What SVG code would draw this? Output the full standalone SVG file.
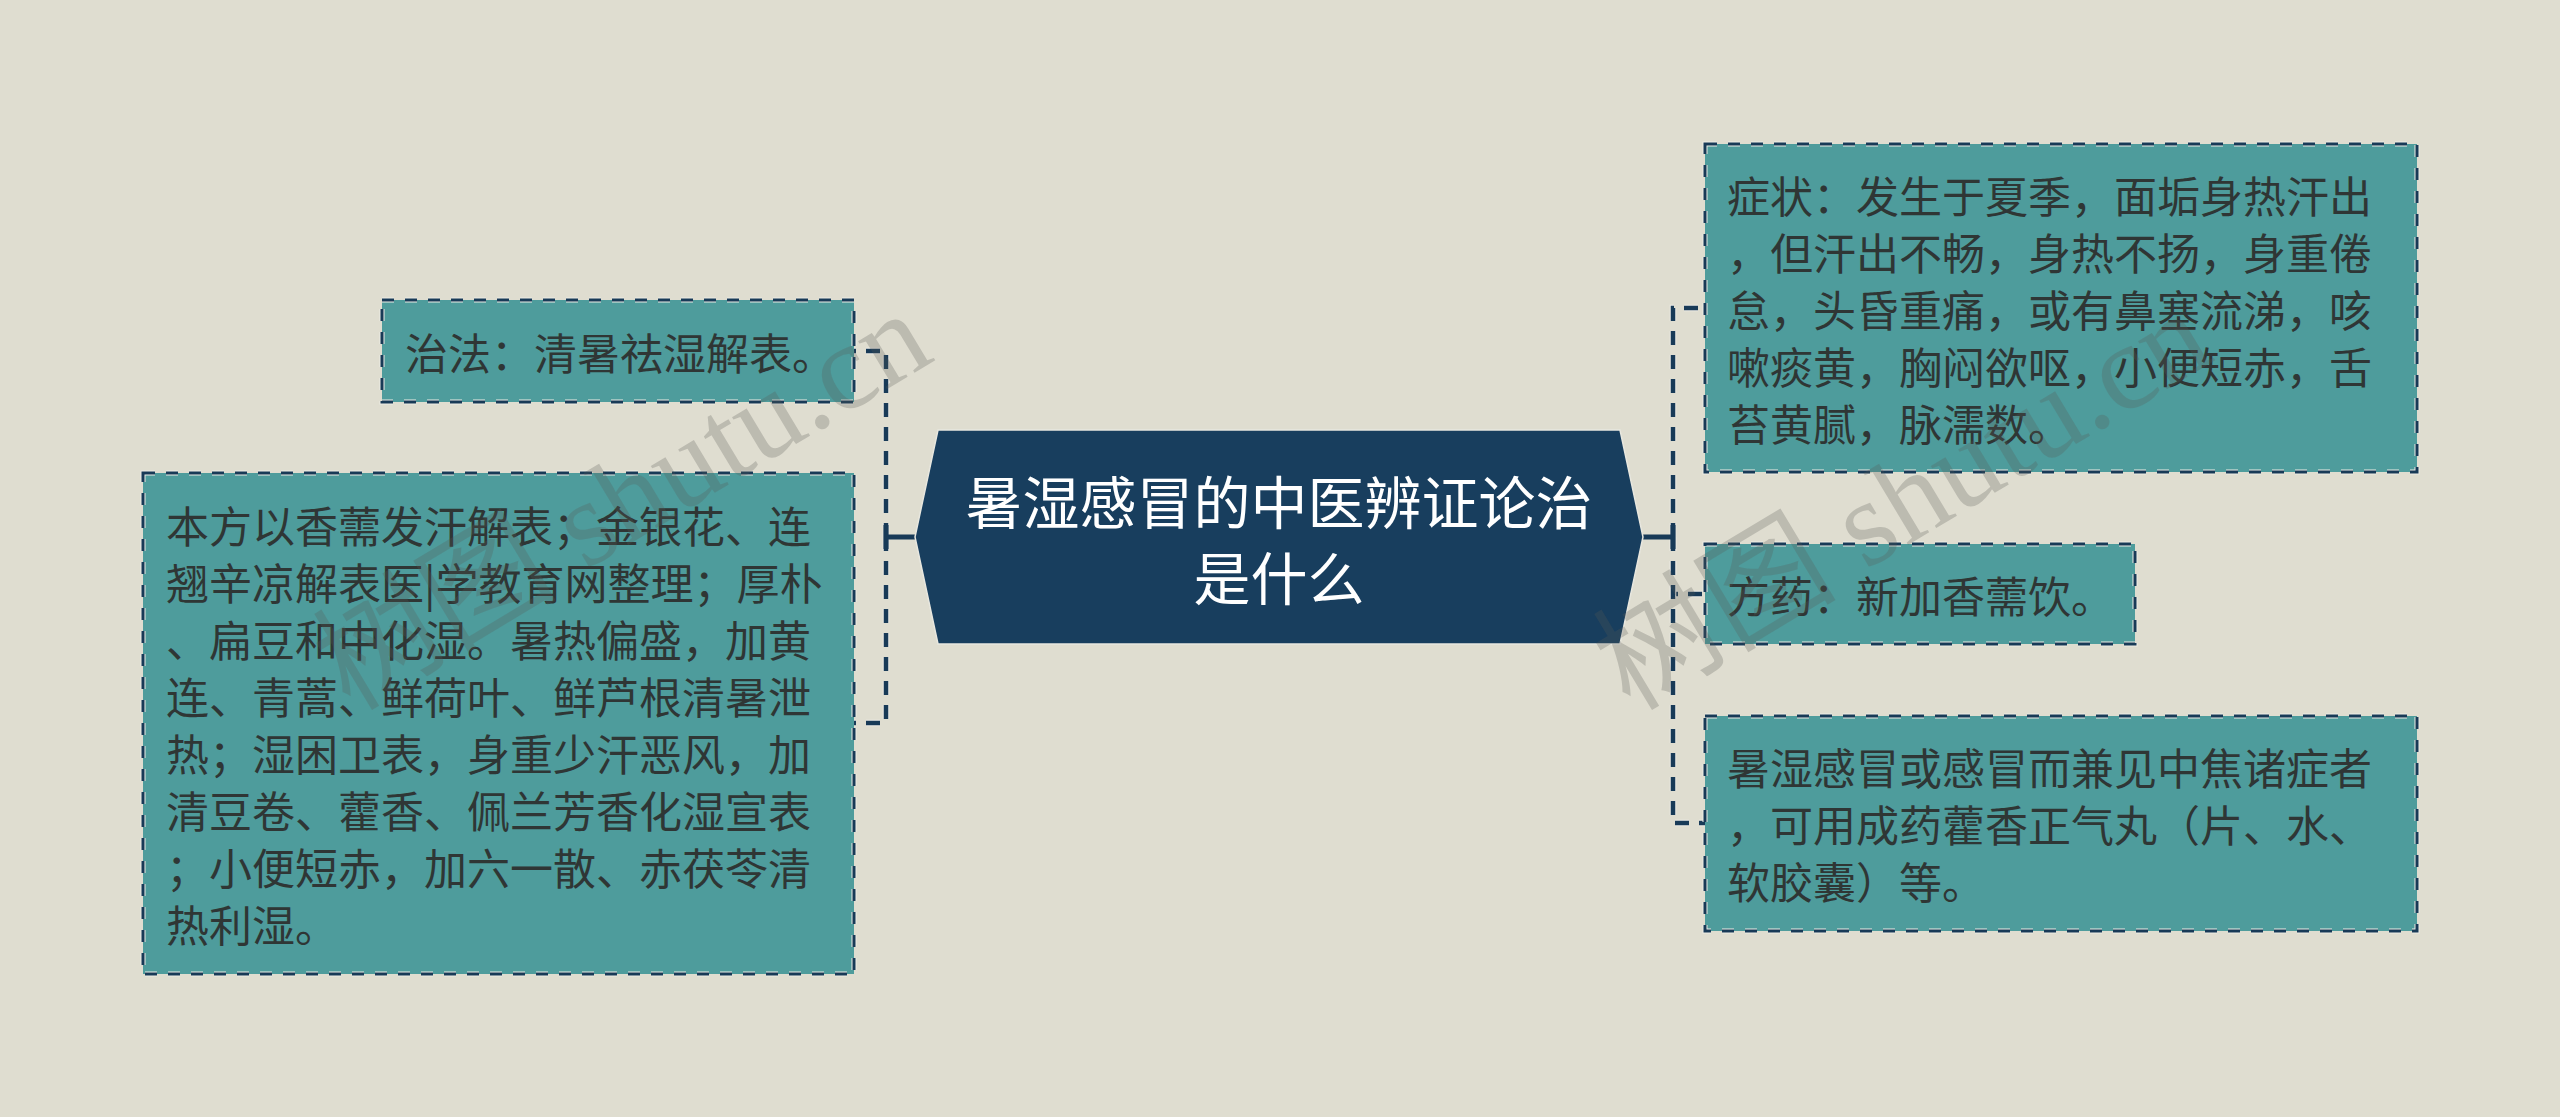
<svg xmlns="http://www.w3.org/2000/svg" width="2560" height="1117" viewBox="0 0 2560 1117">
<style>
.bg{fill:#dfddd0}
.box{fill:#4e9c9c}
.halo{fill:none;stroke:#eeede6;stroke-width:5;stroke-dasharray:12 11}
.edge{fill:none;stroke:#183a57;stroke-width:3;stroke-dasharray:12 11}
.t{font-family:"Noto Sans CJK SC","Liberation Sans",sans-serif;font-size:43px;fill:#2f3635;dominant-baseline:central}
.title{font-family:"Noto Sans CJK SC","Liberation Sans",sans-serif;font-size:57px;fill:#ffffff;dominant-baseline:central;text-anchor:middle}
.clink{fill:none;stroke:#eeede6;stroke-width:6.5;stroke-dasharray:14 10}
.link{fill:none;stroke:#183a57;stroke-width:4.5;stroke-dasharray:14 10}
.solid{fill:none;stroke:#183a57;stroke-width:5}
.wm{font-family:"Liberation Serif","Noto Sans CJK SC",serif;font-size:122px;fill:#5a5a55;fill-opacity:0.26}
</style>
<rect class="bg" x="0" y="0" width="2560" height="1117"/>

<g id="connectors">
  <path class="clink" d="M886,537 V351 H854"/>
  <path class="link" d="M886,537 V351 H854"/>
  <path class="clink" d="M886,537 V723 H854"/>
  <path class="link" d="M886,537 V723 H854"/>
  <path class="solid" d="M915,537 H886 M886,525 V549"/>
  <path class="clink" d="M1673,537 V308 H1705"/>
  <path class="link" d="M1673,537 V308 H1705"/>
  <path class="clink" d="M1673,537 V594 H1705"/>
  <path class="link" d="M1673,537 V594 H1705"/>
  <path class="clink" d="M1673,537 V823 H1705"/>
  <path class="link" d="M1673,537 V823 H1705"/>
  <path class="solid" d="M1643,537 H1673 M1673,525 V549"/>
</g>

<g id="center">
  <polygon points="915,537 938,430 1620,430 1643,537 1620,644 938,644" fill="#183e5e" stroke="#e8e7df" stroke-width="1.5"/>
  <text class="title" x="1279" y="499">暑湿感冒的中医辨证论治</text>
  <text class="title" x="1279" y="575">是什么</text>
</g>

<g id="node-zhifa">
  <rect class="box" x="382" y="300" width="472" height="102"/>
  <rect class="halo" x="382" y="300" width="472" height="102"/>
  <rect class="edge" x="382" y="300" width="472" height="102"/>
  <text class="t" x="405" y="351">治法：清暑祛湿解表。</text>
</g>

<g id="node-benfang">
  <rect class="box" x="143" y="473" width="711" height="501"/>
  <rect class="halo" x="143" y="473" width="711" height="501"/>
  <rect class="edge" x="143" y="473" width="711" height="501"/>
  <text class="t" x="166" y="524">本方以香薷发汗解表；金银花、连</text>
  <text class="t" x="166" y="581">翘辛凉解表医|学教育网整理；厚朴</text>
  <text class="t" x="166" y="638">、扁豆和中化湿。暑热偏盛，加黄</text>
  <text class="t" x="166" y="695">连、青蒿、鲜荷叶、鲜芦根清暑泄</text>
  <text class="t" x="166" y="752">热；湿困卫表，身重少汗恶风，加</text>
  <text class="t" x="166" y="809">清豆卷、藿香、佩兰芳香化湿宣表</text>
  <text class="t" x="166" y="866">；小便短赤，加六一散、赤茯苓清</text>
  <text class="t" x="166" y="923">热利湿。</text>
</g>

<g id="node-zhengzhuang">
  <rect class="box" x="1705" y="144" width="712" height="328"/>
  <rect class="halo" x="1705" y="144" width="712" height="328"/>
  <rect class="edge" x="1705" y="144" width="712" height="328"/>
  <text class="t" x="1727" y="194">症状：发生于夏季，面垢身热汗出</text>
  <text class="t" x="1727" y="251">，但汗出不畅，身热不扬，身重倦</text>
  <text class="t" x="1727" y="308">怠，头昏重痛，或有鼻塞流涕，咳</text>
  <text class="t" x="1727" y="365">嗽痰黄，胸闷欲呕，小便短赤，舌</text>
  <text class="t" x="1727" y="422">苔黄腻，脉濡数。</text>
</g>

<g id="node-fangyao">
  <rect class="box" x="1705" y="544" width="430" height="100"/>
  <rect class="halo" x="1705" y="544" width="430" height="100"/>
  <rect class="edge" x="1705" y="544" width="430" height="100"/>
  <text class="t" x="1727" y="594">方药：新加香薷饮。</text>
</g>

<g id="node-chengyao">
  <rect class="box" x="1705" y="716" width="712" height="215"/>
  <rect class="halo" x="1705" y="716" width="712" height="215"/>
  <rect class="edge" x="1705" y="716" width="712" height="215"/>
  <text class="t" x="1727" y="766">暑湿感冒或感冒而兼见中焦诸症者</text>
  <text class="t" x="1727" y="823">，可用成药藿香正气丸（片、水、</text>
  <text class="t" x="1727" y="880">软胶囊）等。</text>
</g>

<g id="watermarks">
  <text class="wm" transform="translate(350,712) rotate(-31)">树图 shutu.cn</text>
  <text class="wm" transform="translate(1630,712) rotate(-31)">树图 shutu.cn</text>
</g>
</svg>
